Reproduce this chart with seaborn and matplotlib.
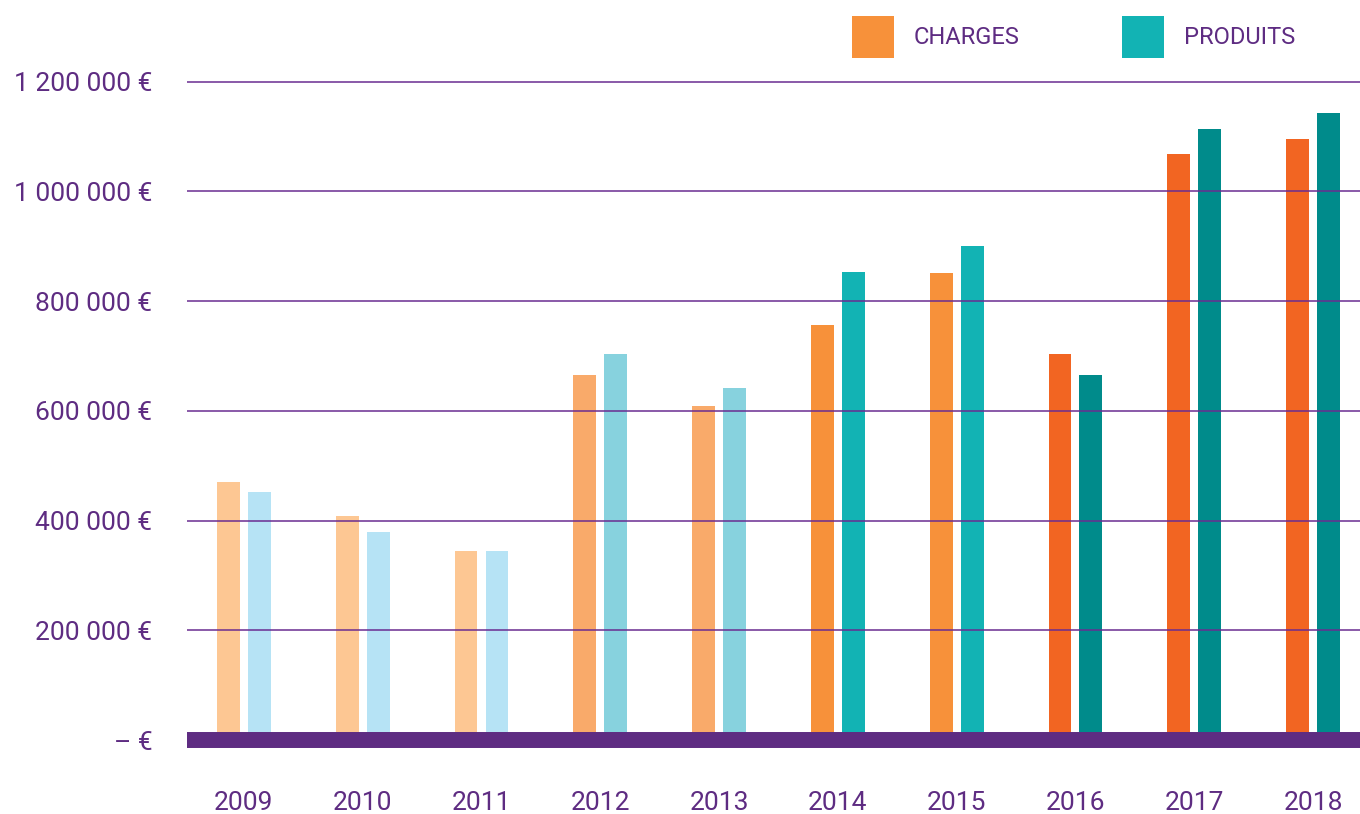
import matplotlib.pyplot as plt
import pandas as pd
import seaborn as sns
from matplotlib.patches import Patch

# valeurs
annees = ["2009", "2010", "2011", "2012", "2013", "2014", "2015", "2016", "2017", "2018"]
charges = [470000, 409000, 345000, 665000, 609000, 757000, 852000, 703000, 1069000, 1096000]
produits = [452000, 380000, 345000, 703000, 641000, 854000, 900000, 665000, 1114000, 1143000]

# couleurs par année (charges, produits)
couleurs_charges = ["#FDC793"] * 3 + ["#F9AA6A"] * 2 + ["#F7913A"] * 2 + ["#F26522"] * 3
couleurs_produits = ["#B6E3F5"] * 3 + ["#87D2DE"] * 2 + ["#12B3B4"] * 2 + ["#008B8B"] * 3

yticks = [0, 200000, 400000, 600000, 800000, 1000000, 1200000]
ytick_labels = ["– €", "200 000 €", "400 000 €", "600 000 €", "800 000 €",
                "1 000 000 €", "1 200 000 €"]

violet = "#5E2C82"

df = pd.DataFrame({
    "annee": annees * 2,
    "montant": charges + produits,
    "serie": ["CHARGES"] * len(annees) + ["PRODUITS"] * len(annees),
})

sns.set_style("white")
plt.rcParams["font.family"] = ["Roboto", "DejaVu Sans"]

fig = plt.figure(figsize=(13.6, 8.14), dpi=100)
ax = fig.add_axes([187 / 1360, 54 / 814, 1 - 187 / 1360, 700 / 814])

sns.barplot(data=df, x="annee", y="montant", hue="serie", width=0.52, gap=0.26,
            ax=ax, legend=False, saturation=1)

# recolorier chaque barre selon l'année
for serie_idx, cont in enumerate(ax.containers):
    cols = couleurs_charges if serie_idx == 0 else couleurs_produits
    for j, bar in enumerate(cont):
        bar.set_facecolor(cols[j])
        bar.set_edgecolor("none")

ax.set_xlim(-0.479, 9.395)
ax.set_ylim(-36460, 1239700)
ax.set_yticks(yticks)
ax.set_yticklabels(ytick_labels)
ax.set_xlabel("")
ax.set_ylabel("")

ax.yaxis.grid(True, color="#6A2C91", linewidth=1.1)
ax.xaxis.grid(False)
ax.set_axisbelow(False)
for s in ax.spines.values():
    s.set_visible(False)

ax.axhline(0, color=violet, linewidth=11.5, zorder=4, solid_capstyle="butt")

ax.tick_params(axis="y", length=0, pad=25, labelsize=19, labelcolor=violet)
ax.tick_params(axis="x", length=0, pad=22, labelsize=19, labelcolor=violet)

handles = [Patch(facecolor="#F7913A", edgecolor="none"),
           Patch(facecolor="#12B3B4", edgecolor="none")]
leg = fig.legend(handles, ["CHARGES", "PRODUITS"], loc="upper left",
                 bbox_to_anchor=(852 / 1360, 1 - 16 / 814), ncol=2, frameon=False,
                 fontsize=17, handlelength=1.78, handleheight=2.36, handletextpad=0.85,
                 columnspacing=4.3, borderpad=0, borderaxespad=0)
for t in leg.get_texts():
    t.set_color(violet)

fig.savefig("out.png", dpi=100)
